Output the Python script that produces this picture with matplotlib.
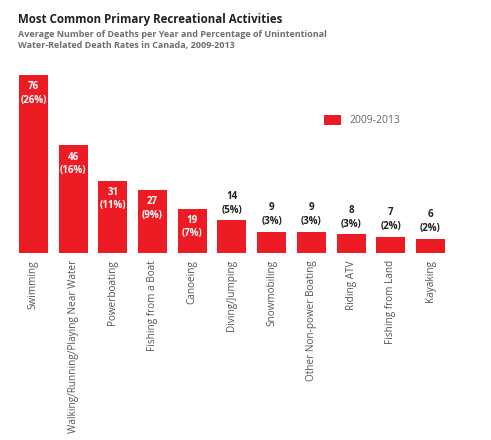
import matplotlib.pyplot as plt

activities = ["Swimming", "Walking/Running/Playing Near Water", "Powerboating",
              "Fishing from a Boat", "Canoeing", "Diving/Jumping", "Snowmobiling",
              "Other Non-power Boating", "Riding ATV", "Fishing from Land", "Kayaking"]
deaths = [76, 46, 31, 27, 19, 14, 9, 9, 8, 7, 6]
percent = [26, 16, 11, 9, 7, 5, 3, 3, 3, 2, 2]

red = "#ED1C24"
plt.rcParams['font.family'] = ['Open Sans', 'DejaVu Sans']

fig = plt.figure(figsize=(4.91, 4.40), dpi=100)
ax = fig.add_axes([13.6 / 491, 1 - 253 / 440, (450.3 - 13.6) / 491, 187 / 440])

x = range(len(activities))
ax.bar(x, deaths, width=0.73, color=red, label="2009-2013", zorder=2)

for i, (d, p) in enumerate(zip(deaths, percent)):
    txt = f"{d}\n({p}%)"
    if d >= 19:
        ax.text(i, d - 2.6, txt, ha="center", va="top", color="white",
                fontsize=7, fontweight="bold", linespacing=1.35)
    else:
        ax.text(i, d + 2.0, txt, ha="center", va="bottom", color="#231F20",
                fontsize=7, fontweight="bold", linespacing=1.35)

ax.set_xlim(-0.5, len(activities) - 0.5)
ax.set_ylim(0, 80)
ax.set_xticks(list(x))
ax.set_xticklabels(activities, rotation=90, fontsize=7.2, color="#555555")
ax.tick_params(axis="x", length=0, pad=5)
ax.set_yticks([])
for s in ["top", "right", "left", "bottom"]:
    ax.spines[s].set_visible(False)

leg = ax.legend(loc="upper left", bbox_to_anchor=(0.69, 0.79), frameon=False,
                fontsize=7.5, handlelength=1.6, handleheight=1.1)
for t in leg.get_texts():
    t.set_color("#666666")

fig.text(18 / 491, 1 - 20 / 440, "Most Common Primary Recreational Activities",
         fontsize=8.3, fontweight="bold", color="#231F20", va="center")
fig.text(18 / 491, 1 - 40 / 440,
         "Average Number of Deaths per Year and Percentage of Unintentional\nWater-Related Death Rates in Canada, 2009-2013",
         fontsize=6.5, fontweight="bold", color="#6D6E71", va="center", linespacing=1.3)

fig.savefig("out.png", dpi=100)
